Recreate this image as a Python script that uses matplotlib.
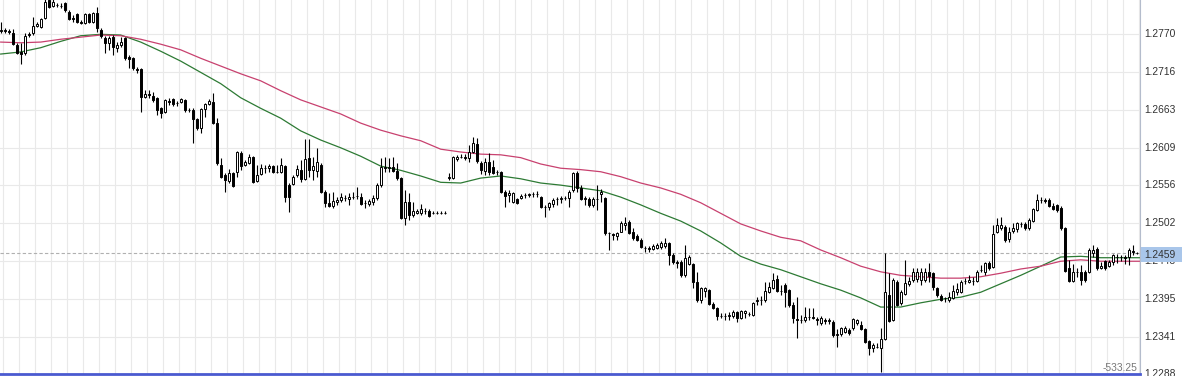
import numpy as np
import matplotlib
matplotlib.use("Agg")
import matplotlib.pyplot as plt
from matplotlib.patches import Rectangle

# OHLC in points (1 point = 0.0001)
open_pts = [
    12775, 12776, 12775, 12772, 12755, 12745, 12744, 12769, 12772, 12782,
    12780, 12793, 12819, 12810, 12812, 12810, 12814, 12802, 12793, 12799,
    12787, 12786, 12799, 12787, 12800, 12776, 12765, 12758, 12766, 12751,
    12755, 12765, 12738, 12736, 12721, 12721, 12681, 12685, 12682, 12680,
    12665, 12660, 12675, 12678, 12672, 12674, 12677, 12663, 12663, 12650,
    12637, 12664, 12671, 12674, 12644, 12585, 12570, 12562, 12573, 12575,
    12602, 12585, 12587, 12596, 12562, 12572, 12580, 12580, 12583, 12575,
    12575, 12583, 12556, 12558, 12570, 12578, 12565, 12594, 12578, 12576,
    12585, 12546, 12531, 12526, 12532, 12535, 12538, 12536, 12539, 12540,
    12539, 12530, 12529, 12532, 12538, 12556, 12582, 12581, 12582, 12576,
    12566, 12509, 12532, 12514, 12517, 12517, 12519, 12519, 12516, 12517,
    12516, 12517, 12566, 12566, 12593, 12596, 12596, 12594, 12603, 12614,
    12587, 12576, 12589, 12582, 12574, 12575, 12546, 12542, 12532, 12536,
    12538, 12542, 12542, 12543, 12543, 12539, 12525, 12525, 12529, 12536,
    12537, 12538, 12538, 12549, 12573, 12552, 12537, 12536, 12528, 12536,
    12544, 12538, 12488, 12486, 12484, 12490, 12499, 12504, 12489, 12484,
    12478, 12467, 12467, 12466, 12467, 12468, 12470, 12474, 12457, 12447,
    12447, 12428, 12444, 12444, 12418, 12393, 12406, 12407, 12387, 12382,
    12371, 12371, 12371, 12371, 12376, 12367, 12374, 12373, 12372, 12392,
    12393, 12393, 12404, 12410, 12423, 12406, 12414, 12407, 12386, 12366,
    12365, 12365, 12369, 12369, 12366, 12361, 12364, 12363, 12362, 12344,
    12345, 12348, 12350, 12353, 12360, 12357, 12352, 12335, 12325, 12327,
    12325, 12338, 12400, 12365, 12418, 12389, 12401, 12416, 12421, 12423,
    12421, 12421, 12433, 12431, 12410, 12399, 12396, 12393, 12396, 12404,
    12404, 12420, 12418, 12420, 12420, 12435, 12433, 12446, 12440, 12489,
    12495, 12497, 12480, 12491, 12494, 12501, 12501, 12495, 12505, 12521,
    12535, 12535, 12535, 12526, 12528, 12524, 12495, 12438, 12420, 12433,
    12433, 12433, 12433, 12460, 12465, 12438, 12448, 12441, 12447, 12454,
    12454, 12454, 12454, 12462, 12460,
]
high_pts = [
    12787, 12779, 12778, 12778, 12758, 12758, 12772, 12773, 12795, 12787,
    12793, 12822, 12823, 12820, 12814, 12814, 12816, 12805, 12797, 12800,
    12790, 12800, 12800, 12802, 12809, 12779, 12768, 12768, 12769, 12759,
    12766, 12766, 12741, 12738, 12724, 12722, 12691, 12691, 12688, 12681,
    12667, 12678, 12680, 12680, 12675, 12680, 12678, 12665, 12665, 12651,
    12665, 12672, 12678, 12687, 12651, 12594, 12573, 12579, 12575, 12604,
    12604, 12592, 12600, 12597, 12585, 12586, 12585, 12586, 12585, 12585,
    12594, 12585, 12559, 12570, 12585, 12592, 12621, 12621, 12596, 12609,
    12587, 12549, 12545, 12546, 12539, 12545, 12542, 12545, 12546, 12553,
    12545, 12535, 12536, 12542, 12559, 12594, 12596, 12594, 12596, 12587,
    12568, 12549, 12545, 12532, 12522, 12529, 12524, 12522, 12519, 12519,
    12519, 12519, 12573, 12597, 12599, 12600, 12600, 12613, 12624, 12623,
    12590, 12594, 12602, 12592, 12578, 12576, 12549, 12549, 12546, 12538,
    12543, 12545, 12545, 12546, 12548, 12541, 12528, 12532, 12538, 12539,
    12541, 12541, 12549, 12575, 12576, 12556, 12541, 12539, 12539, 12556,
    12550, 12539, 12489, 12488, 12489, 12505, 12511, 12507, 12495, 12487,
    12481, 12469, 12469, 12472, 12474, 12477, 12481, 12475, 12460, 12450,
    12450, 12471, 12457, 12446, 12433, 12411, 12411, 12408, 12390, 12383,
    12374, 12374, 12376, 12379, 12377, 12379, 12379, 12376, 12390, 12397,
    12399, 12418, 12418, 12431, 12428, 12414, 12417, 12409, 12390, 12397,
    12372, 12383, 12382, 12382, 12369, 12370, 12367, 12367, 12365, 12352,
    12355, 12356, 12353, 12367, 12366, 12363, 12353, 12336, 12332, 12332,
    12353, 12460, 12431, 12424, 12421, 12407, 12450, 12426, 12438, 12438,
    12438, 12438, 12446, 12433, 12411, 12401, 12397, 12404, 12414, 12417,
    12421, 12424, 12428, 12426, 12436, 12443, 12447, 12448, 12499, 12509,
    12511, 12499, 12497, 12502, 12504, 12504, 12504, 12509, 12524, 12543,
    12539, 12538, 12538, 12531, 12529, 12526, 12496, 12450, 12444, 12438,
    12443, 12436, 12467, 12471, 12468, 12447, 12450, 12450, 12458, 12458,
    12457, 12457, 12467, 12471, 12461,
]
low_pts = [
    12772, 12772, 12770, 12755, 12742, 12728, 12741, 12766, 12769, 12780,
    12779, 12792, 12807, 12809, 12809, 12807, 12802, 12790, 12787, 12786,
    12785, 12785, 12786, 12786, 12773, 12765, 12744, 12748, 12741, 12745,
    12752, 12734, 12722, 12719, 12715, 12660, 12680, 12680, 12674, 12656,
    12651, 12658, 12670, 12668, 12668, 12672, 12660, 12660, 12616, 12634,
    12630, 12653, 12670, 12643, 12585, 12566, 12546, 12559, 12553, 12568,
    12578, 12583, 12586, 12559, 12560, 12570, 12573, 12575, 12573, 12573,
    12573, 12532, 12518, 12556, 12568, 12560, 12563, 12568, 12563, 12568,
    12545, 12525, 12525, 12524, 12528, 12532, 12533, 12528, 12536, 12536,
    12528, 12524, 12526, 12528, 12535, 12553, 12575, 12575, 12575, 12563,
    12508, 12499, 12507, 12511, 12515, 12514, 12515, 12511, 12515, 12515,
    12515, 12515, 12563, 12565, 12590, 12594, 12592, 12589, 12601, 12587,
    12572, 12570, 12570, 12572, 12570, 12545, 12525, 12532, 12531, 12529,
    12536, 12538, 12539, 12539, 12539, 12524, 12511, 12521, 12525, 12528,
    12531, 12535, 12525, 12546, 12546, 12535, 12528, 12525, 12525, 12521,
    12532, 12485, 12464, 12478, 12478, 12489, 12492, 12487, 12478, 12477,
    12467, 12461, 12461, 12464, 12465, 12465, 12467, 12443, 12444, 12438,
    12426, 12426, 12443, 12410, 12390, 12389, 12397, 12386, 12380, 12365,
    12367, 12365, 12365, 12367, 12362, 12366, 12367, 12371, 12371, 12386,
    12386, 12390, 12403, 12409, 12404, 12400, 12383, 12383, 12360, 12339,
    12360, 12362, 12365, 12366, 12358, 12358, 12359, 12359, 12341, 12326,
    12342, 12346, 12343, 12350, 12357, 12350, 12332, 12315, 12319, 12325,
    12291, 12336, 12362, 12363, 12385, 12386, 12400, 12413, 12418, 12418,
    12414, 12418, 12418, 12407, 12397, 12392, 12390, 12390, 12394, 12400,
    12403, 12416, 12417, 12414, 12418, 12433, 12428, 12436, 12438, 12488,
    12492, 12475, 12475, 12488, 12490, 12497, 12492, 12492, 12504, 12519,
    12531, 12531, 12525, 12521, 12518, 12492, 12433, 12418, 12418, 12426,
    12414, 12418, 12431, 12454, 12436, 12437, 12436, 12440, 12443, 12445,
    12448, 12444, 12443, 12457, 12458,
]
close_pts = [
    12776, 12775, 12773, 12756, 12744, 12742, 12768, 12770, 12782, 12785,
    12792, 12816, 12809, 12816, 12811, 12810, 12805, 12792, 12792, 12787,
    12786, 12799, 12787, 12800, 12779, 12768, 12758, 12765, 12752, 12755,
    12759, 12736, 12735, 12722, 12720, 12681, 12685, 12684, 12677, 12663,
    12658, 12677, 12674, 12671, 12673, 12678, 12663, 12662, 12650, 12637,
    12664, 12671, 12675, 12644, 12587, 12568, 12563, 12573, 12555, 12603,
    12583, 12589, 12596, 12560, 12570, 12580, 12581, 12583, 12575, 12575,
    12585, 12539, 12539, 12568, 12579, 12565, 12593, 12578, 12583, 12589,
    12546, 12531, 12526, 12533, 12535, 12539, 12538, 12539, 12539, 12541,
    12529, 12531, 12533, 12538, 12556, 12582, 12581, 12582, 12576, 12566,
    12509, 12532, 12514, 12519, 12519, 12522, 12519, 12512, 12517, 12516,
    12517, 12516, 12567, 12596, 12596, 12596, 12595, 12603, 12616, 12590,
    12578, 12589, 12575, 12573, 12575, 12546, 12541, 12545, 12545, 12531,
    12541, 12542, 12543, 12543, 12544, 12525, 12525, 12531, 12535, 12537,
    12538, 12538, 12546, 12573, 12552, 12536, 12538, 12528, 12536, 12537,
    12546, 12488, 12488, 12485, 12488, 12502, 12502, 12488, 12481, 12478,
    12468, 12467, 12466, 12469, 12471, 12474, 12474, 12457, 12447, 12446,
    12428, 12453, 12454, 12418, 12393, 12410, 12410, 12387, 12382, 12371,
    12371, 12370, 12372, 12376, 12367, 12377, 12377, 12373, 12389, 12393,
    12393, 12406, 12411, 12421, 12406, 12406, 12404, 12386, 12368, 12365,
    12365, 12369, 12369, 12368, 12365, 12367, 12363, 12364, 12343, 12345,
    12353, 12353, 12346, 12366, 12365, 12352, 12333, 12325, 12329, 12326,
    12338, 12404, 12363, 12421, 12386, 12404, 12417, 12420, 12433, 12433,
    12433, 12433, 12427, 12411, 12400, 12393, 12396, 12397, 12406, 12409,
    12418, 12420, 12421, 12420, 12433, 12436, 12446, 12438, 12487, 12499,
    12499, 12478, 12490, 12495, 12502, 12501, 12495, 12507, 12522, 12535,
    12535, 12534, 12526, 12522, 12521, 12495, 12434, 12420, 12433, 12433,
    12421, 12421, 12464, 12464, 12438, 12441, 12438, 12447, 12457, 12454,
    12454, 12453, 12464, 12461, 12459,
]

# moving averages, sampled every 5 bars
ma_bars = list(range(0, 290, 5))
ma_fast_pts = [
    12742, 12745, 12751, 12760, 12768, 12770, 12769, 12759, 12746, 12732,
    12716, 12700, 12680, 12665, 12651, 12633, 12620, 12609, 12597, 12583,
    12577, 12569, 12560, 12559, 12566, 12569, 12565, 12559, 12556, 12552,
    12548, 12539, 12528, 12516, 12505, 12491, 12474, 12455, 12444, 12436,
    12426, 12416, 12407, 12396, 12383, 12383, 12389, 12394, 12397, 12404,
    12416, 12428, 12441, 12454, 12455, 12453, 12453, 12453,
]
ma_slow_pts = [
    12759, 12758, 12759, 12763, 12766, 12769, 12768, 12763, 12756, 12748,
    12736, 12725, 12714, 12704, 12690, 12677, 12667, 12657, 12644, 12634,
    12626, 12619, 12607, 12603, 12600, 12599, 12595, 12586, 12580, 12578,
    12575, 12568, 12559, 12552, 12543, 12531, 12516, 12501, 12491, 12482,
    12477, 12464, 12453, 12441, 12433, 12428, 12426, 12424, 12424, 12426,
    12431, 12437, 12441, 12448, 12450, 12448, 12448, 12448,
]

tick_values = [1.2288, 1.2341, 1.2395, 1.2448, 1.2502, 1.2556,
               1.2609, 1.2663, 1.2716, 1.2770, 1.2824]
last_price = 1.2459
indicator_text = "-533.25"

o = np.array(open_pts) / 10000
h = np.array(high_pts) / 10000
l = np.array(low_pts) / 10000
c = np.array(close_pts) / 10000
x = np.arange(len(o))

W, H = 1182, 376
fig = plt.figure(figsize=(W / 100, H / 100), dpi=100)
ax = fig.add_axes([0, 2 / H, 1140 / W, 374 / H])
ax.set_xlim(-0.175, 284.825)
ax.set_ylim(1.22880, 1.28187)

# grid
for v in tick_values:
    ax.axhline(v, color="#e9e9e9", lw=0.8, zorder=0)
for gx in np.arange(0.65, 285, 4):
    ax.axvline(gx, color="#e9e9e9", lw=0.8, zorder=0)

ax.axhline(last_price, color="#b0b0b0", lw=0.8, ls=(0, (3, 2)), zorder=1)

# moving averages
ax.plot(ma_bars, np.array(ma_fast_pts) / 10000, color="#2d7a34", lw=0.9, zorder=2)
ax.plot(ma_bars, np.array(ma_slow_pts) / 10000, color="#c8416f", lw=0.9, zorder=2)

# candles
ax.vlines(x, l, h, color="black", lw=0.8, zorder=3)
up = c >= o
bottoms = np.minimum(o, c)
heights = np.abs(c - o)
ax.bar(x[up], heights[up], bottom=bottoms[up], width=0.55,
       facecolor="white", edgecolor="black", lw=0.7, zorder=4)
ax.bar(x[~up], heights[~up], bottom=bottoms[~up], width=0.55,
       facecolor="black", edgecolor="black", lw=0.7, zorder=4)

for s in ["top", "left"]:
    ax.spines[s].set_visible(False)
ax.spines["right"].set_color("#b4bccc")
ax.spines["right"].set_linewidth(0.8)
ax.spines["bottom"].set_color("#4a5ad0")
ax.spines["bottom"].set_linewidth(2)
ax.set_xticks([])
ax.set_yticks([])

font = dict(family="Liberation Sans", fontsize=7.4, color="#333333")
for v in tick_values:
    ax.text(1 + 4 / 1140, v, f"{v:.4f}", transform=ax.get_yaxis_transform(),
            va="center", ha="left", clip_on=False, **font)

# current price box
fig.add_artist(Rectangle((1141 / W, (H - 262) / H), 41 / W, 15 / H,
                         transform=fig.transFigure, facecolor="#a9c6ea",
                         edgecolor="none", zorder=5))
fig.text(1144 / W, (H - 254.5) / H, f"{last_price:.4f}", va="center", ha="left",
         zorder=6, **font)

ax.text(1 - 3 / 1140, 0.004, indicator_text, transform=ax.transAxes,
        ha="right", va="bottom", family="Liberation Sans", fontsize=7.4,
        color="#777777")

fig.savefig("out.png", dpi=100)
